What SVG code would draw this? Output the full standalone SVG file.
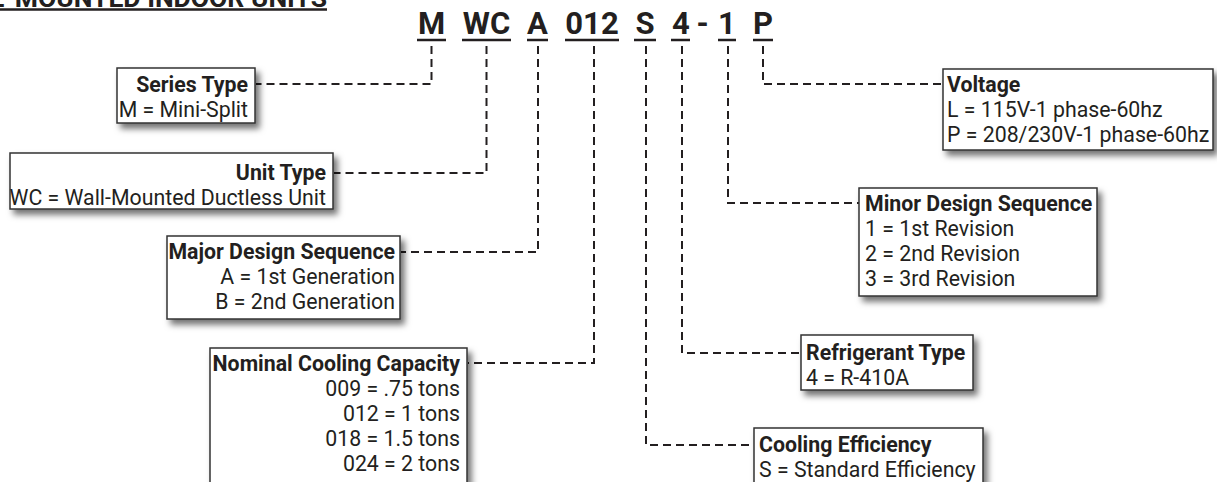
<svg xmlns="http://www.w3.org/2000/svg" width="1217" height="482" viewBox="0 0 1217 482">
<defs>
<filter id="sh" x="-10%" y="-10%" width="130%" height="140%">
<feDropShadow dx="4" dy="5" stdDeviation="3" flood-color="#000" flood-opacity="0.55"/>
</filter>
<style>
text{font-family:Roboto,"Liberation Sans",sans-serif;fill:#231f20;font-size:21.3px}
.b{font-weight:bold}
.r{text-anchor:end}
.code{font-weight:bold;font-size:31px;text-anchor:middle}
.hdr{font-weight:bold;font-size:26.5px;text-anchor:end}
.box{fill:#fff;stroke:#333;stroke-width:1.5;filter:url(#sh)}
.ul{stroke:#231f20;stroke-width:2.5}
.dash{fill:none;stroke:#231f20;stroke-width:2;stroke-dasharray:8 5}
</style>
</defs>
<rect width="1217" height="482" fill="#fff"/>
<g id="title">
<text class="hdr" x="327" y="6.5">WALL-MOUNTED INDOOR UNITS</text>
<line class="ul" x1="0" y1="9.5" x2="327" y2="9.5"/>
</g>
<g id="code">
<text class="code" x="431.5" y="34">M</text>
<text class="code" x="486.5" y="34">WC</text>
<text class="code" x="537.5" y="34">A</text>
<text class="code" x="592" y="34">012</text>
<text class="code" x="645" y="34">S</text>
<text class="code" x="681" y="34">4</text>
<text class="code" x="702.5" y="34">-</text>
<text class="code" x="727" y="34">1</text>
<text class="code" x="763" y="34">P</text>
<line class="ul" x1="417" y1="40" x2="446" y2="40"/>
<line class="ul" x1="462" y1="40" x2="511" y2="40"/>
<line class="ul" x1="527" y1="40" x2="548" y2="40"/>
<line class="ul" x1="565" y1="40" x2="619" y2="40"/>
<line class="ul" x1="634" y1="40" x2="656" y2="40"/>
<line class="ul" x1="671" y1="40" x2="690" y2="40"/>
<line class="ul" x1="718" y1="40" x2="736" y2="40"/>
<line class="ul" x1="753" y1="40" x2="773" y2="40"/>
</g>
<g id="connectors">
<path class="dash" d="M431.5,46 V84 H256"/>
<path class="dash" d="M486.5,46 V173 H334"/>
<path class="dash" d="M538,46 V252 H401"/>
<path class="dash" d="M594,46 V363 H468"/>
<path class="dash" d="M646,46 V445 H754"/>
<path class="dash" d="M682,46 V353 H801"/>
<path class="dash" d="M728,46 V203 H859"/>
<path class="dash" d="M763,46 V84 H943"/>
</g>
<g id="series-type">
<rect class="box" x="117" y="68" width="138" height="55"/>
<text class="b r" x="248" y="92">Series Type</text>
<text class="r" x="248" y="117">M = Mini-Split</text>
</g>
<g id="unit-type">
<rect class="box" x="10" y="153" width="323" height="56"/>
<text class="b r" x="326" y="180">Unit Type</text>
<text class="r" x="326" y="205">WC = Wall-Mounted Ductless Unit</text>
</g>
<g id="major-design">
<rect class="box" x="167" y="236" width="233" height="83"/>
<text class="b r" x="395" y="259">Major Design Sequence</text>
<text class="r" x="395" y="284">A = 1st Generation</text>
<text class="r" x="395" y="309">B = 2nd Generation</text>
</g>
<g id="nominal-capacity">
<rect class="box" x="210" y="348" width="257" height="150"/>
<text class="b r" x="460" y="371">Nominal Cooling Capacity</text>
<text class="r" x="460" y="396">009 = .75 tons</text>
<text class="r" x="460" y="421">012 = 1 tons</text>
<text class="r" x="460" y="446">018 = 1.5 tons</text>
<text class="r" x="460" y="471">024 = 2 tons</text>
</g>
<g id="voltage">
<rect class="box" x="943" y="69" width="270" height="81"/>
<text class="b" x="947" y="92">Voltage</text>
<text x="947" y="117">L = 115V-1 phase-60hz</text>
<text x="947" y="142">P = 208/230V-1 phase-60hz</text>
</g>
<g id="minor-design">
<rect class="box" x="859" y="188" width="238" height="108"/>
<text class="b" x="865" y="211">Minor Design Sequence</text>
<text x="865" y="236">1 = 1st Revision</text>
<text x="865" y="261">2 = 2nd Revision</text>
<text x="865" y="286">3 = 3rd Revision</text>
</g>
<g id="refrigerant-type">
<rect class="box" x="801" y="335" width="172" height="55"/>
<text class="b" x="806" y="360">Refrigerant Type</text>
<text x="806" y="385">4 = R-410A</text>
</g>
<g id="cooling-efficiency">
<rect class="box" x="754" y="428" width="229" height="70"/>
<text class="b" x="759" y="452">Cooling Efficiency</text>
<text x="759" y="477">S = Standard Efficiency</text>
</g>
</svg>
